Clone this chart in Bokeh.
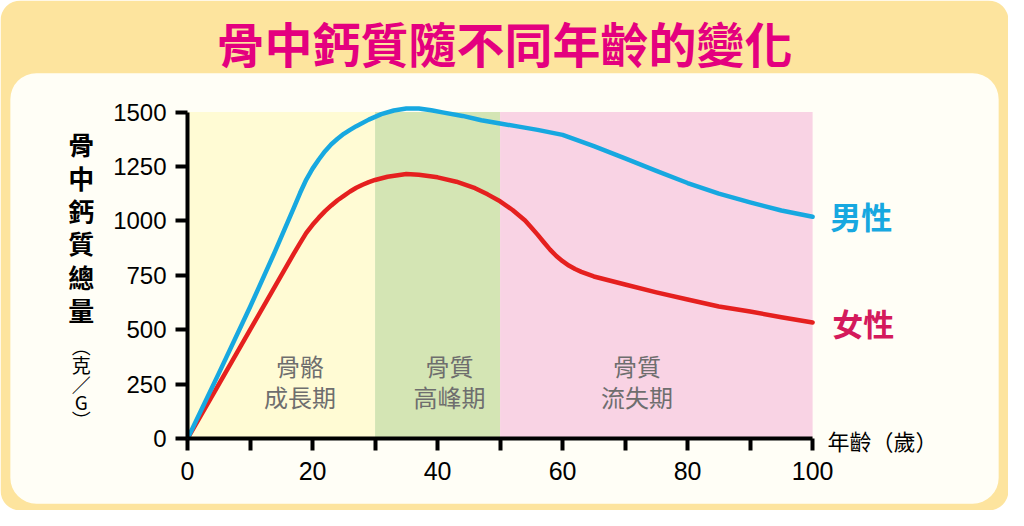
from bokeh.plotting import figure
from bokeh.models import Range1d, Label, BoxAnnotation, FixedTicker
from bokeh.embed import file_html
from bokeh.resources import INLINE

# ---------------- data ----------------
title_text = "骨中鈣質隨不同年齡的變化"

age_male = [0, 5, 10, 14, 17, 18, 19, 20, 21, 22, 23, 24, 25, 26, 27, 29, 31, 33, 35, 37, 39, 41,
            44, 47, 50, 53, 56, 60, 65, 70, 75, 80, 85, 90, 95, 100]
bone_male = [0, 300, 605, 860, 1060, 1128, 1190, 1240, 1282, 1320, 1352, 1377, 1400, 1418, 1435,
             1465, 1490, 1507, 1516, 1516, 1508, 1497, 1482, 1462, 1447, 1433, 1418, 1395, 1343,
             1287, 1230, 1174, 1125, 1085, 1048, 1019]

age_female = [0, 5, 10, 15, 17, 18, 19, 20, 21, 22, 23, 24, 25, 26, 27, 28, 29, 30, 32, 35, 37,
              40, 43, 46, 48, 50, 52, 54, 55, 56, 57, 58, 59, 60, 61, 62, 63, 65, 70, 75, 80, 85,
              90, 95, 100]
bone_female = [0, 250, 500, 750, 850, 898, 945, 982, 1015, 1045, 1071, 1095, 1115, 1135, 1152,
               1166, 1178, 1188, 1203, 1215, 1212, 1200, 1180, 1150, 1122, 1090, 1050, 1002, 970,
               937, 902, 868, 839, 815, 795, 779, 766, 745, 708, 672, 639, 607, 584, 558, 534]

series_names = ["男性", "女性"]

phase_start = [0, 30, 50]
phase_end = [30, 50, 100]
phase_line1 = ["骨骼", "骨質", "骨質"]
phase_line2 = ["成長期", "高峰期", "流失期"]

x_ticks = [0, 20, 40, 60, 80, 100]
x_minor_ticks = [10, 30, 50, 70, 90]
y_ticks = [0, 250, 500, 750, 1000, 1250, 1500]

y_title_chars = ["骨", "中", "鈣", "質", "總", "量"]
y_unit_chars = ["︵", "克", "／", "G", "︶"]
x_title = "年齡（歲）"

# ---------------- styles / layout ----------------
FRAME = "#FDE49E"
PANEL = "#FFFEF6"
PHASE_COLORS = ["#FFFBD4", "#D4E5B4", "#F9D3E4"]
BLUE = "#17A8E0"
RED = "#E5201F"
FEMALE_TXT = "#D41A5C"
TITLE_COLOR = "#E4007F"
GRAY = "#6E6E6E"
CJK = "Noto Sans CJK TC"

W, H = 1008, 510
REF_W, REF_H = 1024, 526                 # layout designed on a 1024x526 sheet
XMIN, XMAX, YMIN, YMAX = 0, 100, 0, 1500
R_L, R_R, R_T, R_B = 190, 825, 115, 452  # axes box on the sheet


def dx(rx):
    return XMIN + (rx - R_L) / (R_R - R_L) * (XMAX - XMIN)


def dy(ry):
    return YMIN + (R_B - ry) / (R_B - R_T) * (YMAX - YMIN)


p = figure(width=W, height=H, x_range=Range1d(dx(0), dx(REF_W)), y_range=Range1d(dy(REF_H), dy(0)),
           output_backend="svg", toolbar_location=None,
           min_border_left=0, min_border_right=0, min_border_top=0, min_border_bottom=0)
p.xgrid.visible = False
p.ygrid.visible = False
p.outline_line_color = None
p.border_fill_color = "white"
p.background_fill_color = "white"

# outer frame and inner rounded panel
p.add_layout(BoxAnnotation(left=dx(0), right=dx(REF_W), top=dy(0), bottom=dy(REF_H),
                           fill_color=FRAME, fill_alpha=1.0, line_color=None,
                           border_radius=20, level="underlay"))
p.add_layout(BoxAnnotation(left=dx(10), right=dx(1014), top=dy(75), bottom=dy(519),
                           fill_color=PANEL, fill_alpha=1.0, line_color=None,
                           border_radius=26, level="underlay"))

# phase bands
p.quad(left=phase_start, right=phase_end, bottom=YMIN, top=YMAX,
       fill_color=PHASE_COLORS, line_color=None)

# curves
p.line(age_female, bone_female, line_color=RED, line_width=4.5, line_join="round", line_cap="round")
p.line(age_male, bone_male, line_color=BLUE, line_width=4.5, line_join="round", line_cap="round")

# axes (fixed inside the canvas-wide frame)
p.xaxis.fixed_location = YMIN
p.yaxis.fixed_location = XMIN
p.xaxis.bounds = (XMIN, XMAX)
p.yaxis.bounds = (YMIN, YMAX)
for ax in (p.xaxis[0], p.yaxis[0]):
    ax.axis_line_width = 4
    ax.axis_line_color = "black"
    ax.major_tick_line_width = 4
    ax.major_tick_line_color = "black"
    ax.major_tick_in = 0
    ax.major_tick_out = 12
    ax.major_label_text_font = "Liberation Sans"
    ax.major_label_text_color = "black"

p.xaxis.ticker = FixedTicker(ticks=x_ticks, minor_ticks=x_minor_ticks)
p.xaxis.minor_tick_in = 0
p.xaxis.minor_tick_out = 12
p.xaxis.minor_tick_line_width = 4
p.xaxis.minor_tick_line_color = "black"
p.xaxis.major_label_standoff = 11
p.xaxis.major_label_text_font_size = "25px"

p.yaxis.ticker = FixedTicker(ticks=y_ticks, minor_ticks=[])
p.yaxis.minor_tick_line_color = None
p.yaxis.major_label_standoff = 9
p.yaxis.major_label_text_font_size = "24px"

# title
p.add_layout(Label(x=dx(512), y=dy(43), text=title_text, text_align="center",
                   text_baseline="middle", text_font=CJK, text_font_style="bold",
                   text_font_size="48px", text_color=TITLE_COLOR))

# y-axis title (vertical)
y_title_ref = [148, 182.5, 217, 250, 285, 319]
for ch, ry in zip(y_title_chars, y_title_ref):
    p.add_layout(Label(x=dx(82), y=dy(ry), text=ch, text_align="center", text_baseline="middle",
                       text_font=CJK, text_font_style="bold", text_font_size="26px",
                       text_color="black"))
y_unit_ref = [356, 375, 396, 414, 432]
for ch, ry in zip(y_unit_chars, y_unit_ref):
    p.add_layout(Label(x=dx(82), y=dy(ry), text=ch, text_align="center", text_baseline="middle",
                       text_font=CJK, text_font_size="19px", text_color="black"))

# x-axis title
p.add_layout(Label(x=dx(840), y=dy(453), text=x_title, text_align="left",
                   text_baseline="middle", text_font=CJK, text_font_size="22px",
                   text_color="black"))

# phase labels
phase_label_x = [18.0, 41.9, 71.9]
for lx, l1, l2 in zip(phase_label_x, phase_line1, phase_line2):
    p.add_layout(Label(x=lx, y=dy(376), text=l1, text_align="center", text_baseline="middle",
                       text_font=CJK, text_font_size="24px", text_color=GRAY))
    p.add_layout(Label(x=lx, y=dy(408), text=l2, text_align="center", text_baseline="middle",
                       text_font=CJK, text_font_size="24px", text_color=GRAY))

# series labels at line ends
p.add_layout(Label(x=dx(843), y=dy(222), text=series_names[0],
                   text_align="left", text_baseline="middle", text_font=CJK,
                   text_font_style="bold", text_font_size="31px", text_color=BLUE))
p.add_layout(Label(x=dx(845), y=dy(332), text=series_names[1],
                   text_align="left", text_baseline="middle", text_font=CJK,
                   text_font_style="bold", text_font_size="31px", text_color=FEMALE_TXT))

open("out.html", "w").write(file_html(p, INLINE))
